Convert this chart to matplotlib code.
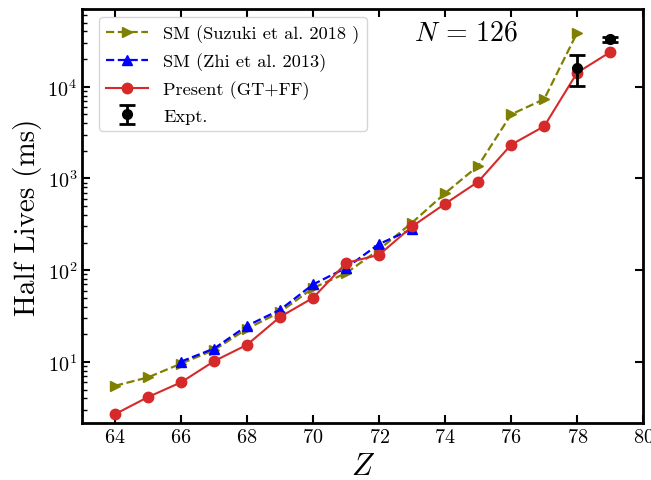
import matplotlib
matplotlib.use('Agg')
import matplotlib.pyplot as plt
import numpy as np

plt.rcParams['font.family'] = 'serif'
plt.rcParams['font.serif'] = ['cmr10', 'DejaVu Serif']
plt.rcParams['mathtext.fontset'] = 'cm'
plt.rcParams['axes.formatter.use_mathtext'] = True

# SM (Suzuki et al. 2018)
z_suzuki = [64, 65, 66, 67, 68, 69, 70, 71, 72, 73, 74, 75, 76, 77, 78]
t_suzuki = [5.5, 6.8, 9.6, 13.5, 23, 35, 64, 93, 168, 330, 690, 1370, 4990, 7300, 38700]

# SM (Zhi et al. 2013)
z_zhi = [66, 67, 68, 69, 70, 71, 72, 73]
t_zhi = [10.1, 14.0, 24.8, 37, 70, 106, 193, 280]

# Present (GT+FF)
z_present = [64, 65, 66, 67, 68, 69, 70, 71, 72, 73, 74, 75, 76, 77, 78, 79]
t_present = [2.7, 4.15, 6.0, 10.2, 15.4, 31, 50, 120, 147, 300, 530, 920, 2330, 3700, 14200, 23800]

# Experiment
z_expt = [78, 79]
t_expt = [16000, 32700]
err_lo = [5800, 2300]
err_hi = [6000, 2300]

fig, ax = plt.subplots(figsize=(6.51, 4.81), dpi=100)
fig.subplots_adjust(left=0.126, right=0.988, bottom=0.118, top=0.979)

ax.plot(z_suzuki, t_suzuki, '--', color='olive', marker='>', markersize=7,
        lw=1.6, label='SM (Suzuki et al. 2018 )')
ax.plot(z_zhi, t_zhi, '--', color='blue', marker='^', markersize=7,
        lw=1.6, label='SM (Zhi et al. 2013)')
ax.plot(z_present, t_present, '-', color='#d62a2a', marker='o', markersize=7.5,
        lw=1.5, label='Present (GT+FF)')
ax.errorbar(z_expt, t_expt, yerr=[err_lo, err_hi], fmt='o', color='black',
            markersize=7, elinewidth=2, capsize=6, capthick=2, label='Expt.')

ax.set_yscale('log')
ax.set_xlim(63, 80)
ax.set_ylim(2.15, 7e4)
ax.set_xticks(np.arange(64, 81, 2))

ax.set_xlabel('$Z$', fontsize=22, labelpad=5)
ax.set_ylabel('Half Lives (ms)', fontsize=21)
ax.text(0.684, 0.944, r'$N\,=\,126$', transform=ax.transAxes, fontsize=20,
        ha='center', va='center')

ax.tick_params(axis='both', which='major', direction='in', top=True, right=True,
               length=6, width=1.5, labelsize=14.5)
ax.tick_params(axis='y', which='minor', direction='in', left=True, right=False,
               length=3.5, width=1)
ax.tick_params(axis='x', which='minor', bottom=False, top=False)
for sp in ax.spines.values():
    sp.set_linewidth(2)

ax.legend(loc='upper left', bbox_to_anchor=(0.03, 0.981), borderaxespad=0,
          fontsize=13.2, handlelength=2.3)

fig.savefig('out.png', dpi=100)
